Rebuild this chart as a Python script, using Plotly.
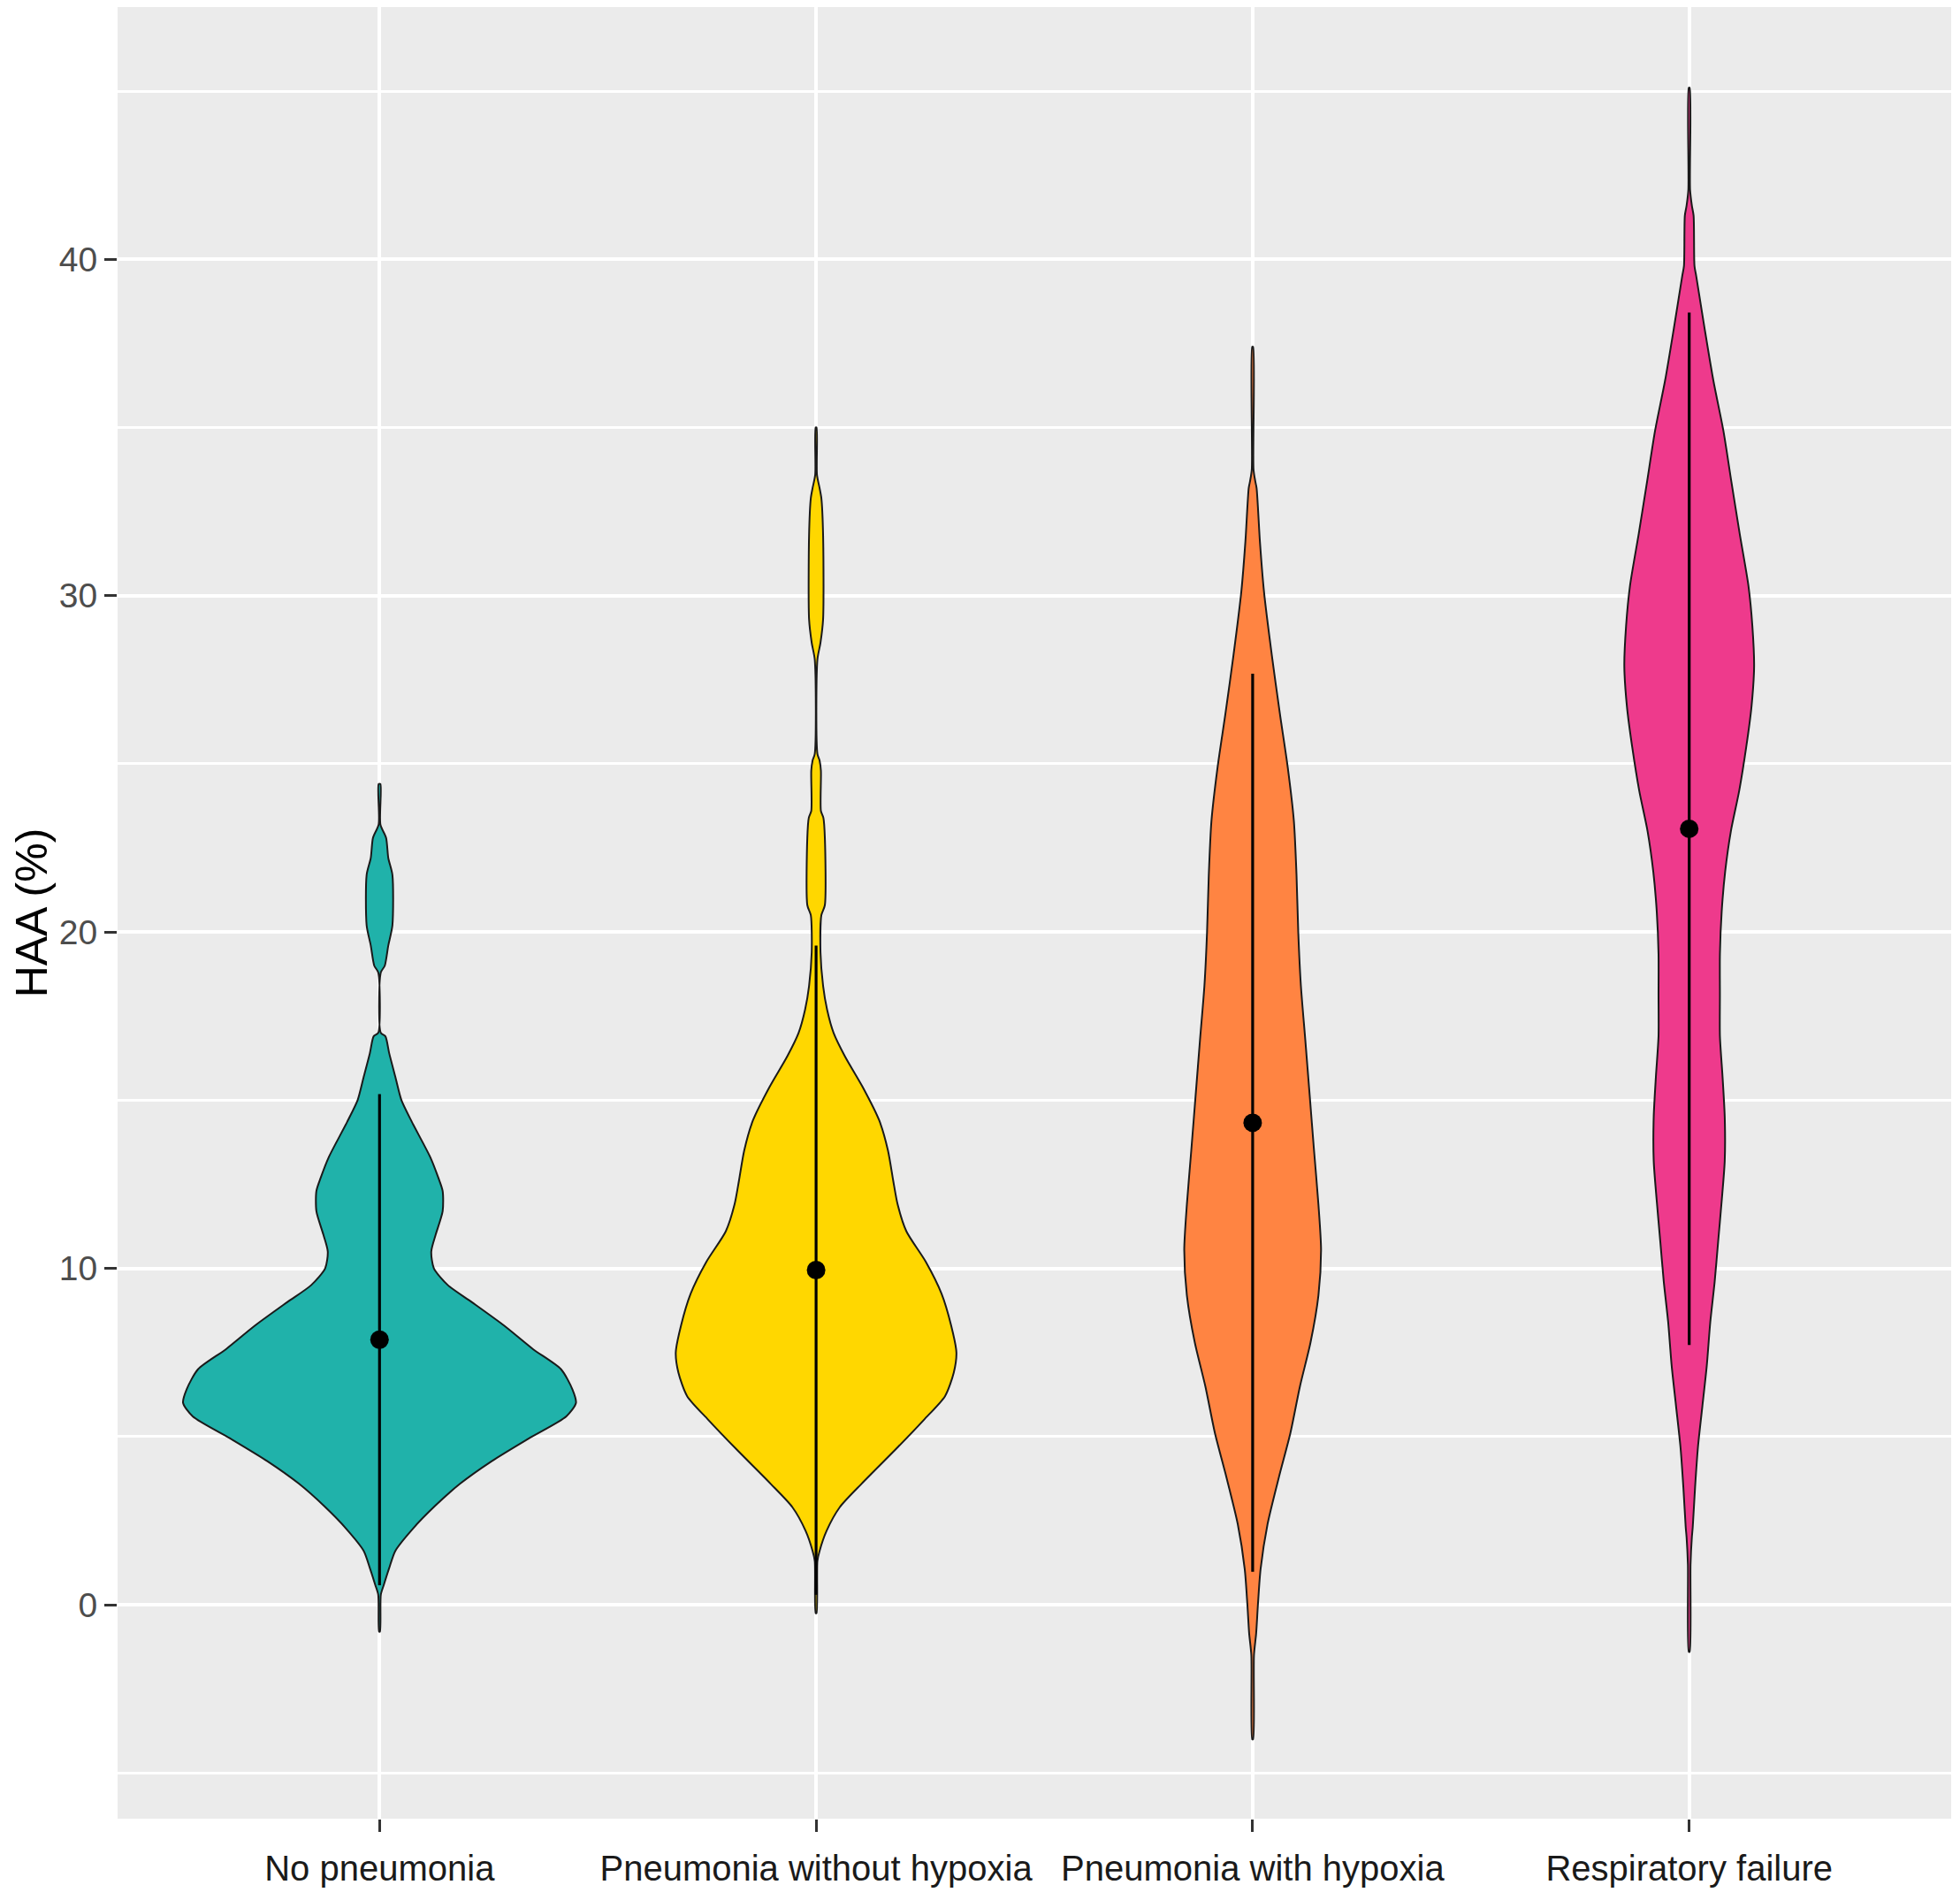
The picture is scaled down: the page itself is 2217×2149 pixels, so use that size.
import plotly.graph_objects as go

# ---------------- data ----------------
CATEGORIES = ["No pneumonia", "Pneumonia without hypoxia",
              "Pneumonia with hypoxia", "Respiratory failure"]
COLORS = ["#20B2AA", "#FFD700", "#FF8442", "#EE3A8C"]

# mean and SD of HAA (%) per group (dot and vertical bar)
MEANS = [7.88, 9.95, 14.33, 23.07]
SDS = [7.3, 9.65, 13.35, 15.35]

# violin outlines: HAA level (%) and relative density at that level
NOPNEU_LEVELS = [24.4, 23.2, 22.8, 22.2, 21.7, 20.2, 19.6, 19.0, 18.8, 17.0,
                 16.9, 16.4, 15.7, 15.0, 14.35, 13.3, 12.7, 12.3, 11.7, 11.0,
                 10.5, 10.0, 9.5, 9.0, 8.3, 7.6, 7.0, 6.4, 6.0, 5.6,
                 4.94, 4.27, 3.6, 2.93, 2.26, 1.6, 1.09, 0.6, 0.3, -0.8]
NOPNEU_DENSITY = [1, 1, 7.5, 10, 14.7, 14.7, 10, 6, 1.5, 1.5,
                  6.7, 11, 18, 25, 37, 58, 67, 72, 72, 64,
                  59, 62, 78, 105, 142, 175, 207, 220, 224, 213,
                  170, 128, 92, 63, 38, 18, 11, 5, 1.5, 0.5]

PNEU_NOHYP_LEVELS = [35.0, 33.6, 33.2, 32.9, 31.8, 29.3, 28.6, 28.1, 25.3, 25.1,
                     24.8, 23.6, 23.4, 22.8, 20.8, 20.5, 19.4, 18.4, 17.7, 17.0,
                     16.3, 15.4, 14.4, 13.5, 12.6, 11.9, 11.1, 10.2, 9.25, 8.3,
                     7.5, 6.9, 6.2, 5.5, 4.6, 3.6, 2.9, 2.2, 1.6, 1.3, -0.25]
PNEU_NOHYP_DENSITY = [0.5, 1, 4, 6, 8, 8, 5, 1.5, 1.5, 4,
                      5.5, 5.5, 8.3, 10, 10, 6, 5, 8, 12.5, 20,
                      33, 53, 72, 82, 88, 93, 103, 125, 143, 154,
                      160, 157, 147, 123, 90, 52, 27, 12, 4, 1.5, 0.5]

PNEU_HYP_LEVELS = [37.4, 33.75, 33.4, 33.2, 31.6, 30.1, 28.2, 26.5, 24.9, 23.3,
                   21.7, 20.0, 18.4, 16.8, 15.15, 13.5, 11.9, 10.55, 9.2, 7.8,
                   6.5, 5.1, 3.8, 2.4, 1.05, 0.0, -0.85, -1.5, -4.0]
PNEU_HYP_DENSITY = [0.5, 1, 3, 4.5, 8.3, 13, 22, 31, 40, 47,
                    50, 52, 55, 60, 65, 70, 75, 78, 75, 66,
                    54, 43, 30, 17, 9, 6, 4, 1.5, 0.5]

RESP_FAIL_LEVELS = [45.1, 42.07, 41.6, 41.3, 39.8, 39.5, 37.95, 36.4, 34.9, 33.4,
                    31.85, 30.3, 29.1, 27.9, 26.7, 25.5, 24.2, 23.0, 21.8, 20.6,
                    19.35, 18.1, 16.9, 15.7, 14.5, 13.2, 12.0, 10.8, 9.6, 8.4,
                    7.1, 5.9, 4.7, 3.5, 2.3, 2.0, 1.2, -1.4]
RESP_FAIL_DENSITY = [0.5, 1, 3, 5, 6, 8, 17.5, 27.5, 39, 48,
                     57.5, 67.5, 72, 74, 71, 65, 57, 47.5, 41, 37,
                     35, 35, 35, 38, 40.5, 40.5, 37, 33, 29, 24,
                     20, 15, 10, 6.7, 4, 3, 1.5, 0.5]

Y_TICKS = [0, 10, 20, 30, 40]
Y_RANGE = [-6.36, 47.5]

LEVELS = [NOPNEU_LEVELS, PNEU_NOHYP_LEVELS, PNEU_HYP_LEVELS, RESP_FAIL_LEVELS]
DENSITIES = [NOPNEU_DENSITY, PNEU_NOHYP_DENSITY, PNEU_HYP_DENSITY, RESP_FAIL_DENSITY]

# ---------------- figure ----------------
MAX_HALF_WIDTH = 0.45  # ggplot violin width 0.9, area scaling
global_max = max(max(d) for d in DENSITIES)
positions = list(range(1, len(CATEGORIES) + 1))

fig = go.Figure()

for pos, lv, dens, col, name in zip(positions, LEVELS, DENSITIES, COLORS, CATEGORIES):
    half = [d / global_max * MAX_HALF_WIDTH for d in dens]
    xs = [pos + h for h in half] + [pos - h for h in reversed(half)]
    ys = list(lv) + list(reversed(lv))
    xs.append(xs[0])
    ys.append(ys[0])
    fig.add_trace(go.Scatter(
        x=xs, y=ys, mode="lines", fill="toself", fillcolor=col,
        line=dict(color="#1a1a1a", width=2, shape="spline", smoothing=0.7),
        name=name, showlegend=False, hoverinfo="skip",
    ))

fig.add_trace(go.Scatter(
    x=positions, y=MEANS, mode="markers",
    marker=dict(color="black", size=21),
    error_y=dict(type="data", array=SDS, visible=True, thickness=3.2,
                 width=0, color="black"),
    showlegend=False,
))

# the page body has an 8px margin, so the figure is a little smaller
fig.update_layout(
    width=2209, height=2141,
    margin=dict(l=125, r=10, t=0, b=92),
    paper_bgcolor="white",
    plot_bgcolor="#EBEBEB",
    font=dict(family="Liberation Sans, Arial, sans-serif", color="#4D4D4D"),
    showlegend=False,
)

fig.update_xaxes(
    range=[0.4, 4.6],
    tickvals=positions, ticktext=CATEGORIES,
    tickfont=dict(size=40, color="#1a1a1a"),
    ticklabelstandoff=7,
    showgrid=True, gridcolor="white", gridwidth=4,
    zeroline=False, showline=False,
    ticks="outside", ticklen=14, tickwidth=3, tickcolor="#333333",
    fixedrange=True,
)

fig.update_yaxes(
    range=Y_RANGE,
    tickvals=Y_TICKS,
    tickfont=dict(size=39, color="#4D4D4D"),
    showgrid=True, gridcolor="white", gridwidth=4,
    minor=dict(dtick=5, tick0=0, showgrid=True, gridcolor="white", gridwidth=2.5),
    zeroline=False, showline=False,
    ticks="outside", ticklen=14, tickwidth=3, tickcolor="#333333",
    title=dict(text="HAA (%)", font=dict(size=50, color="black"), standoff=16),
    fixedrange=True,
)

fig.write_html("out.html")
